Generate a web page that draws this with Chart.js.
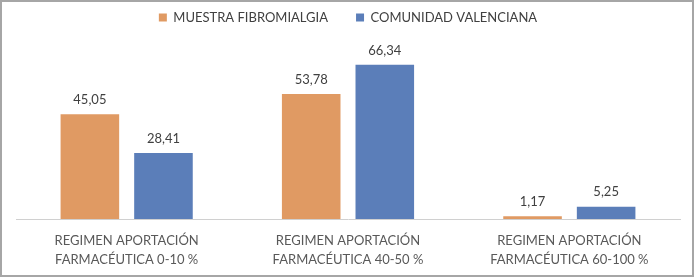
<!DOCTYPE html>
<html>
<head>
<meta charset="utf-8">
<script src="https://cdn.jsdelivr.net/npm/chart.js@4"></script>
<style>
  html, body { margin: 0; padding: 0; background: #fff; }
  #box {
    position: absolute; left: 0; top: 0;
    width: 690px; height: 273px;
    border: 2px solid #a6a6a6;
    background: #fff;
  }
  #chart { display: block; }
</style>
</head>
<body>
<div id="box"><canvas id="chart" width="690" height="273"></canvas></div>
<script>
const categories = [
    ['REGIMEN APORTACIÓN', 'FARMACÉUTICA 0-10 %'],
    ['REGIMEN APORTACIÓN', 'FARMACÉUTICA 40-50 %'],
    ['REGIMEN APORTACIÓN', 'FARMACÉUTICA 60-100 %']
];
const muestraFibromialgia = [45.05, 53.78, 1.17];
const comunidadValenciana = [28.41, 66.34, 5.25];

const ORANGE = '#e09a63';
const BLUE = '#5b7eb9';
const TEXT = '#404040';

// etiquetas de valor encima de cada barra (formato español)
const valueLabels = {
    id: 'valueLabels',
    afterDatasetsDraw(chart) {
        const ctx = chart.ctx;
        ctx.save();
        ctx.font = '13px Lato';
        ctx.fillStyle = TEXT;
        ctx.textAlign = 'center';
        ctx.textBaseline = 'bottom';
        chart.data.datasets.forEach((ds, i) => {
            chart.getDatasetMeta(i).data.forEach((bar, j) => {
                const txt = ds.data[j].toFixed(2).replace('.', ',');
                ctx.fillText(txt, bar.x, bar.y - 8);
            });
        });
        ctx.restore();
    }
};

new Chart(document.getElementById('chart'), {
    type: 'bar',
    data: {
        labels: categories,
        datasets: [
            { label: 'MUESTRA FIBROMIALGIA', data: muestraFibromialgia, backgroundColor: ORANGE },
            { label: 'COMUNIDAD VALENCIANA', data: comunidadValenciana, backgroundColor: BLUE }
        ]
    },
    options: {
        responsive: false,
        animation: false,
        categoryPercentage: 0.665,
        barPercentage: 0.796,
        layout: { padding: { left: 14, right: 12, top: -19, bottom: 1 } },
        scales: {
            x: {
                grid: { display: false },
                border: { display: true, color: '#d0d0d0', width: 1 },
                ticks: {
                    color: '#595959',
                    font: { family: 'Lato', size: 13, lineHeight: 1.5 },
                    padding: 4, maxRotation: 0
                }
            },
            y: { display: false, min: 0, max: 79.6 }
        },
        plugins: {
            legend: {
                position: 'top',
                labels: {
                    color: TEXT,
                    font: { family: 'Lato', size: 13 },
                    boxWidth: 8, boxHeight: 8,
                    padding: 28
                }
            },
            tooltip: { enabled: false }
        }
    },
    plugins: [valueLabels]
});
</script>
</body>
</html>
